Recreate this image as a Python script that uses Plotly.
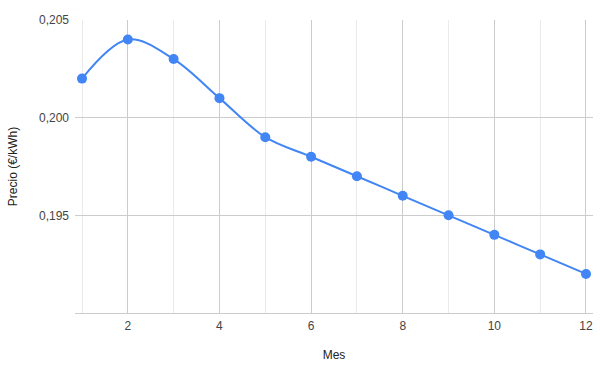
import plotly.graph_objects as go

mes = [1, 2, 3, 4, 5, 6, 7, 8, 9, 10, 11, 12]
precio = [0.202, 0.204, 0.203, 0.201, 0.199, 0.198, 0.197, 0.196, 0.195, 0.194, 0.193, 0.192]
y_ticks = [0.195, 0.200, 0.205]
x_ticks = [2, 4, 6, 8, 10, 12]

fig = go.Figure()
fig.add_trace(go.Scatter(
    x=mes, y=precio, mode="lines+markers",
    line=dict(color="#4285F4", width=2, shape="spline", smoothing=1.0),
    marker=dict(color="#4285F4", size=10),
    hoverinfo="x+y", showlegend=False,
))

font = "Liberation Sans, Arial, sans-serif"
fig.update_layout(
    width=600, height=368,
    margin=dict(l=75, r=7, t=20, b=55),
    paper_bgcolor="white", plot_bgcolor="white",
    separators=",.",
    font=dict(family=font, size=12, color="#222222"),
    xaxis=dict(
        range=[0.847, 12.153],
        tickvals=x_ticks,
        showgrid=True, gridcolor="#cccccc", gridwidth=1,
        minor=dict(tickvals=mes, showgrid=True, gridcolor="#ebebeb", gridwidth=1),
        zeroline=False, showline=True, linecolor="#cccccc", linewidth=1,
        ticks="", tickfont=dict(family=font, size=12, color="#444444"),
        ticklabelstandoff=2,
        title=dict(text="Mes", font=dict(family=font, size=12, color="#222222"), standoff=18),
    ),
    yaxis=dict(
        range=[0.190, 0.205],
        tickvals=y_ticks, tickformat=".3f",
        showgrid=True, gridcolor="#cccccc", gridwidth=1,
        zeroline=False, showline=False,
        ticks="", tickfont=dict(family=font, size=12, color="#444444"),
        ticklabelstandoff=5,
        title=dict(text="Precio (€/kWh)", font=dict(family=font, size=12, color="#222222"), standoff=18),
    ),
)
fig.write_html("out.html")
